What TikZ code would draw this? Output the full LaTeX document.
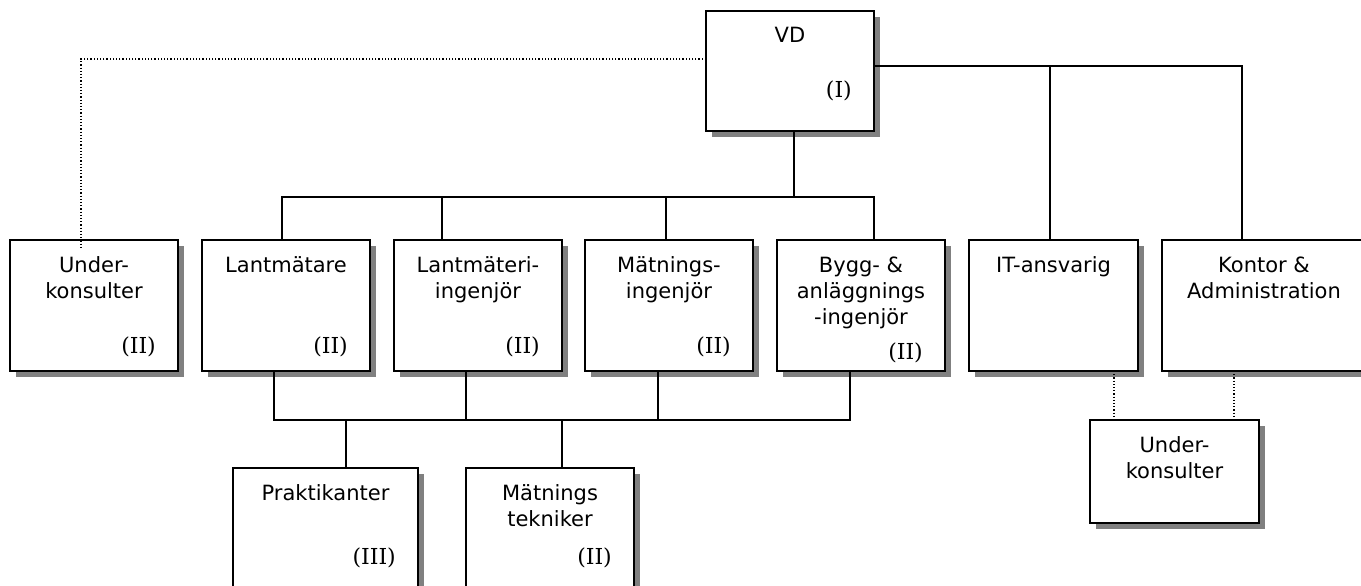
\documentclass[tikz,border=0pt]{standalone}
\usepackage{fontspec}
\setmainfont{DejaVu Sans}
\newfontfamily\lblfont{DejaVu Serif}
\usetikzlibrary{shadows}
\definecolor{shadowgray}{HTML}{808080}
\newcommand\mlines[1]{\begin{tabular}[t]{@{}c@{}}#1\end{tabular}}
\tikzset{
  orgbox/.style={draw=black, line width=1.9pt, fill=white, anchor=north west,
    inner sep=0pt, outer sep=0pt,
    general shadow={fill=shadowgray, shadow xshift=6pt, shadow yshift=-6pt}},
  boxtext/.style={anchor=base, inner sep=0pt, font=\fontsize{21}{26}\selectfont},
  lvl/.style={anchor=base east, inner sep=0pt, font=\lblfont\fontsize{22}{26}\selectfont},
  conn/.style={draw=black, line width=1.8pt},
  dotline/.style={draw=black, line width=1.2pt, dash pattern=on 1.2pt off 2pt}
}
\begin{document}
\begin{tikzpicture}[x=1pt,y=-1pt]
\useasboundingbox (0,0) rectangle (1361,586);
\clip (0,0) rectangle (1361,586);
% boxes
\node[orgbox, minimum width=168pt, minimum height=120pt] (vd) at (706,11) {};
\node[orgbox, minimum width=168pt, minimum height=131pt] (uk1) at (10,240) {};
\node[orgbox, minimum width=168pt, minimum height=131pt] (lm) at (202,240) {};
\node[orgbox, minimum width=168pt, minimum height=131pt] (lmi) at (394,240) {};
\node[orgbox, minimum width=168pt, minimum height=131pt] (mi) at (585,240) {};
\node[orgbox, minimum width=168pt, minimum height=131pt] (bai) at (777,240) {};
\node[orgbox, minimum width=169pt, minimum height=131pt] (it) at (969,240) {};
\node[orgbox, minimum width=204pt, minimum height=131pt] (ka) at (1162,240) {};
\node[orgbox, minimum width=169pt, minimum height=103pt] (uk2) at (1090,420) {};
\node[orgbox, minimum width=185pt, minimum height=130pt] (pr) at (233,468) {};
\node[orgbox, minimum width=168pt, minimum height=130pt] (mt) at (466,468) {};
% texts
\node[boxtext] (vdt) at ([yshift=-32pt]vd.north) {VD};
\node[boxtext] (uk1t) at ([yshift=-32pt]uk1.north) {\mlines{Under-\\konsulter}};
\node[boxtext] (lmt) at ([yshift=-32pt]lm.north) {Lantmätare};
\node[boxtext] (lmit) at ([yshift=-32pt]lmi.north) {\mlines{Lantmäteri-\\ingenjör}};
\node[boxtext] (mit) at ([yshift=-32pt]mi.north) {\mlines{Mätnings-\\ingenjör}};
\node[boxtext] (bait) at ([yshift=-32pt]bai.north) {\mlines{Bygg- \&\\anläggnings\\-ingenjör}};
\node[boxtext] (itt) at ([yshift=-32pt]it.north) {IT-ansvarig};
\node[boxtext] (kat) at ([yshift=-32pt]ka.north) {\mlines{Kontor \&\\Administration}};
\node[boxtext] (uk2t) at ([yshift=-32pt]uk2.north) {\mlines{Under-\\konsulter}};
\node[boxtext] (prt) at ([yshift=-32pt]pr.north) {Praktikanter};
\node[boxtext] (mtt) at ([yshift=-32pt]mt.north) {\mlines{Mätnings\\tekniker}};
% level labels
\node[lvl] (vdl) at ([xshift=-22pt,yshift=33pt]vd.south east) {(I)};
\node[lvl] (uk1l) at ([xshift=-22pt,yshift=18pt]uk1.south east) {(II)};
\node[lvl] (lml) at ([xshift=-22pt,yshift=18pt]lm.south east) {(II)};
\node[lvl] (lmil) at ([xshift=-22pt,yshift=18pt]lmi.south east) {(II)};
\node[lvl] (mil) at ([xshift=-22pt,yshift=18pt]mi.south east) {(II)};
\node[lvl] (bail) at ([xshift=-22pt,yshift=12pt]bai.south east) {(II)};
\node[lvl] (prl) at ([xshift=-22pt,yshift=-96pt]pr.north east) {(III)};
\node[lvl] (mtl) at ([xshift=-22pt,yshift=-96pt]mt.north east) {(II)};
% top bus
\coordinate (tb) at (794,197);
\draw[conn] ([xshift=4pt]vd.south) -- (tb);
\draw[conn] ([xshift=-4pt]lm.north) |- ([xshift=13pt]bai.north |- tb) -- ([xshift=13pt]bai.north);
\draw[conn] ([xshift=-36pt]lmi.north) -- ([xshift=-36pt]lmi.north |- tb);
\draw[conn] ([xshift=-3pt]mi.north) -- ([xshift=-3pt]mi.north |- tb);
% right branch
\draw[conn] ([yshift=5pt]vd.east) -| ([xshift=-22pt]ka.north);
\draw[conn] ([xshift=-3.5pt]it.north) -- ([xshift=-3.5pt,yshift=5pt]it.north |- vd.east);
% left dotted
\draw[dotline] ([yshift=12pt]vd.west) -| ([xshift=-13pt,yshift=-8pt]uk1.north);
% bottom bus
\coordinate (bb) at (0,420);
\draw[conn] ([xshift=-12pt]lm.south) |- ([xshift=-11pt]bai.south |- bb) -- ([xshift=-11pt]bai.south);
\draw[conn] ([xshift=-12pt]lmi.south) -- ([xshift=-12pt]lmi.south |- bb);
\draw[conn] ([xshift=-11pt]mi.south) -- ([xshift=-11pt]mi.south |- bb);
\draw[conn] ([xshift=20.5pt]pr.north) -- ([xshift=20.5pt]pr.north |- bb);
\draw[conn] ([xshift=12pt]mt.north) -- ([xshift=12pt]mt.north |- bb);
% dotted to lower Under-konsulter
\draw[dotline] ([xshift=60.5pt]it.south) -- ([xshift=60.5pt]it.south |- uk2.north);
\draw[dotline] ([xshift=-30pt]ka.south) -- ([xshift=-30pt]ka.south |- uk2.north);
\end{tikzpicture}
\end{document}
